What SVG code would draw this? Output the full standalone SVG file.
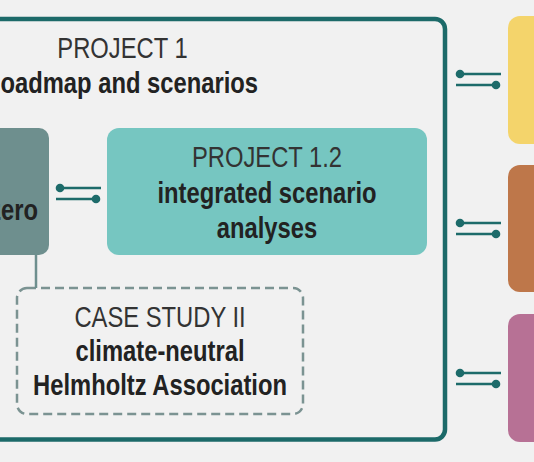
<svg xmlns="http://www.w3.org/2000/svg" xmlns:xlink="http://www.w3.org/1999/xlink" width="534" height="462" viewBox="0 0 534 462">
  <style>
    .t { font-family: "Liberation Sans", Arial, sans-serif; font-size: 29px; }
    .r { font-weight: normal; fill: #333333; }
    .b { font-weight: bold; fill: #222222; }
    .m { text-anchor: middle; }
    .e { text-anchor: end; }
    .lk { stroke: #1d6b6a; stroke-width: 2.5; fill: none; }
    .dot { fill: #1d6b6a; }
  </style>
  <defs>
    <g id="link">
      <line class="lk" x1="4" y1="0" x2="45" y2="0"/>
      <circle class="dot" cx="4" cy="0" r="4.3"/>
      <line class="lk" x1="0" y1="11" x2="40" y2="11"/>
      <circle class="dot" cx="40" cy="11" r="4.3"/>
    </g>
  </defs>
  <rect x="0" y="0" width="534" height="462" fill="#f1f1f1"/>

  <g id="project1">
    <rect x="-20" y="19" width="465" height="420.5" rx="10" fill="none" stroke="#1c6a69" stroke-width="4.5"/>
    <text class="t r m" transform="translate(122.5,58) scale(0.82,1)">PROJECT 1</text>
    <text class="t b e" transform="translate(258,93) scale(0.82,1)">oadmap and scenarios</text>
  </g>

  <g id="node-zero">
    <rect x="-40" y="128" width="89" height="127" rx="10" fill="#6e8f8e"/>
    <text class="t b e" transform="translate(38,220) scale(0.82,1)">zero</text>
  </g>

  <g id="project12">
    <rect x="107" y="128" width="320" height="127" rx="12" fill="#76c6c1"/>
    <text class="t r m" transform="translate(267,167) scale(0.82,1)" fill="#1f2f2f">PROJECT 1.2</text>
    <text class="t b m" transform="translate(267,203) scale(0.82,1)">integrated scenario</text>
    <text class="t b m" transform="translate(267,238) scale(0.82,1)">analyses</text>
  </g>

  <g id="casestudy2">
    <rect x="17" y="288" width="286" height="126" rx="10" fill="none" stroke="#7b9392" stroke-width="2.5" stroke-dasharray="9 5"/>
    <text class="t r m" transform="translate(160,327) scale(0.82,1)">CASE STUDY II</text>
    <text class="t b m" transform="translate(160,361) scale(0.82,1)">climate-neutral</text>
    <text class="t b m" transform="translate(160,395) scale(0.82,1)">Helmholtz Association</text>
  </g>

  <g id="right-yellow">
    <rect x="508" y="16" width="60" height="128" rx="12" fill="#f4d46b"/>
  </g>
  <g id="right-orange">
    <rect x="508" y="165" width="60" height="127" rx="12" fill="#be774a"/>
  </g>
  <g id="right-pink">
    <rect x="508" y="314" width="60" height="128" rx="12" fill="#b77195"/>
  </g>

  <g id="connectors">
    <line x1="36" y1="255" x2="36" y2="288" stroke="#6e8f8e" stroke-width="2.5"/>
    <use xlink:href="#link" href="#link" transform="translate(56,188)"/>
    <use xlink:href="#link" href="#link" transform="translate(456,74)"/>
    <use xlink:href="#link" href="#link" transform="translate(456,223)"/>
    <use xlink:href="#link" href="#link" transform="translate(456,373)"/>
  </g>
</svg>
